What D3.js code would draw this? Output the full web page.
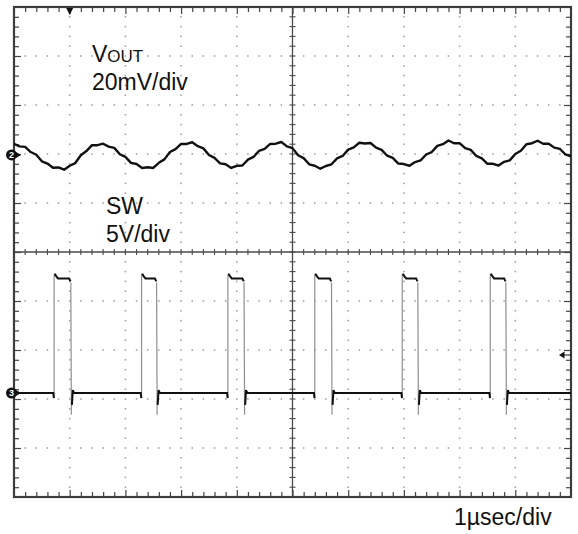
<!DOCTYPE html>
<html>
<head>
<meta charset="utf-8">
<script src="https://cdn.jsdelivr.net/npm/d3@7"></script>
<style>
  html, body { margin: 0; padding: 0; background: #fff; }
  svg { display: block; }
  text { font-family: "Liberation Sans", Arial, sans-serif; }
</style>
</head>
<body>
<svg id="chart" width="578" height="534"></svg>
<script>
// ---- Data ----
// time axis: 1 µs/div, 10 divisions
const timeStart = 0, timeEnd = 10;           // µs
const voutStep = 0.1;                         // µs between VOUT samples
// VOUT ripple (mV, AC coupled), one value every 0.1 µs from 0 to 10 µs
const voutMv = [
  4.6, 3.5, 3.3, 1.2, 0.1, -2.6, -3.5, -5.2, -5.1, -6.0,
  -4.4, -3.3, -0.1, 1.6, 4.0, 4.0, 4.6, 3.4, 2.9, 0.3,
  -0.8, -3.2, -3.7, -5.3, -5.0, -5.3, -3.2, -1.8, 1.2, 2.4,
  4.5, 4.5, 5.2, 3.6, 2.7, 0.0, -1.2, -3.4, -3.8, -5.3,
  -4.4, -4.3, -1.9, -0.8, 1.7, 2.5, 4.5, 4.6, 5.3, 3.5,
  2.8, -0.1, -1.3, -3.8, -4.4, -5.6, -4.5, -3.8, -1.4, -0.4,
  2.2, 3.1, 5.0, 4.7, 4.9, 3.0, 2.1, -0.3, -1.2, -3.5,
  -3.7, -4.4, -2.9, -2.2, 0.2, 1.2, 3.7, 4.4, 5.9, 4.8,
  4.8, 2.8, 2.1, -0.4, -1.4, -3.6, -3.6, -4.3, -2.8, -2.2,
  0.4, 1.7, 4.4, 4.8, 5.8, 4.6, 4.6, 3.0, 2.5, 0.2, -0.6
];
// SW node: edge times (µs) and levels (V)
const swRise = [0.72, 2.29, 3.84, 5.40, 6.97, 8.55];
const swFall = [1.02, 2.56, 4.13, 5.70, 7.25, 8.83];
const swHighV = 11.7, swOvershootV = 12.1, swUndershootV = -2.2, swLowV = 0, swPreDipV = -0.5;
// channel scales and offsets (divisions from screen centre)
const ch2Scale = 20, ch2Offset = 1.98;   // mV/div
const ch3Scale = 5,  ch3Offset = -2.88;  // V/div
const labels = { voutMain: "V", voutSub: "OUT", voutScale: "20mV/div",
                 sw: "SW", swScale: "5V/div", time: "1µsec/div" };

// ---- Layout ----
const svg = d3.select("#chart");
const L = 14, R = 571, T = 7, B = 497;
const x = d3.scaleLinear().domain([timeStart, timeEnd]).range([L, R]);
const yDiv = d3.scaleLinear().domain([-5, 5]).range([B, T]);
const yCh2 = v => yDiv(ch2Offset + v / ch2Scale);
const yCh3 = v => yDiv(ch3Offset + v / ch3Scale);

const majorX = d3.range(1, 10);           // µs grid lines
const majorY = d3.range(-4, 5);           // div grid lines
const minorX = d3.range(1, 50).map(i => i * 0.2);
const minorY = d3.range(1, 50).map(i => -5 + i * 0.2);
const isMajor = v => Math.abs(v - Math.round(v)) < 1e-6;

// dotted graticule
const dots = [];
majorX.filter(v => v !== 5).forEach(mx => minorY.forEach(my => dots.push([mx, my])));
majorY.filter(v => v !== 0).forEach(my => minorX.forEach(mx => { if (!isMajor(mx)) dots.push([mx, my]); }));
svg.append("g").selectAll("rect").data(dots).join("rect")
  .attr("x", d => x(d[0]) - 0.75).attr("y", d => yDiv(d[1]) - 0.75)
  .attr("width", 1.5).attr("height", 1.5).attr("fill", "#9a9a9a");

// centre lines with ticks
const gc = svg.append("g").attr("stroke", "#4a4a4a");
gc.append("line").attr("x1", L).attr("x2", R).attr("y1", yDiv(0)).attr("y2", yDiv(0)).attr("stroke-width", 1.3);
gc.append("line").attr("x1", x(5)).attr("x2", x(5)).attr("y1", T).attr("y2", B).attr("stroke-width", 1.3);
gc.selectAll(".cth").data(minorX).join("line")
  .attr("x1", d => x(d)).attr("x2", d => x(d))
  .attr("y1", yDiv(0) - 3).attr("y2", yDiv(0) + 3).attr("stroke-width", 1.1);
gc.selectAll(".ctv").data(minorY).join("line")
  .attr("y1", d => yDiv(d)).attr("y2", d => yDiv(d))
  .attr("x1", x(5) - 3).attr("x2", x(5) + 3).attr("stroke-width", 1.1);

// frame ticks via axes
function styleAxis(g) {
  g.select(".domain").remove();
  g.selectAll(".tick line").attr("stroke", "#444").attr("stroke-width", 1.2);
  g.selectAll(".tick text").remove();
}
const minorOnlyX = minorX.filter(v => !isMajor(v));
const minorOnlyY = minorY.filter(v => !isMajor(v));
svg.append("g").attr("transform", `translate(0,${T})`).call(d3.axisTop(x).tickValues(minorOnlyX).tickSize(-5)).call(styleAxis);
svg.append("g").attr("transform", `translate(0,${T})`).call(d3.axisTop(x).tickValues(majorX).tickSize(-7)).call(styleAxis);
svg.append("g").attr("transform", `translate(0,${B})`).call(d3.axisBottom(x).tickValues(minorOnlyX).tickSize(-5)).call(styleAxis);
svg.append("g").attr("transform", `translate(0,${B})`).call(d3.axisBottom(x).tickValues(majorX).tickSize(-7)).call(styleAxis);
svg.append("g").attr("transform", `translate(${L},0)`).call(d3.axisLeft(yDiv).tickValues(minorOnlyY).tickSize(-5)).call(styleAxis);
svg.append("g").attr("transform", `translate(${L},0)`).call(d3.axisLeft(yDiv).tickValues(majorY).tickSize(-7)).call(styleAxis);
svg.append("g").attr("transform", `translate(${R},0)`).call(d3.axisRight(yDiv).tickValues(minorOnlyY).tickSize(-5)).call(styleAxis);
svg.append("g").attr("transform", `translate(${R},0)`).call(d3.axisRight(yDiv).tickValues(majorY).tickSize(-7)).call(styleAxis);

// frame
svg.append("rect").attr("x", L).attr("y", T).attr("width", R - L).attr("height", B - T)
  .attr("fill", "none").attr("stroke", "#3c3c3c").attr("stroke-width", 2.2);

// ---- VOUT trace ----
const voutPts = voutMv.map((v, i) => [timeStart + i * voutStep, v]);
svg.append("path").datum(voutPts)
  .attr("fill", "none").attr("stroke", "#111").attr("stroke-width", 2.4).attr("stroke-linejoin", "round")
  .attr("d", d3.line().x(d => x(d[0])).y(d => yCh2(d[1])));

// ---- SW trace ----
const swLine = d3.line().x(d => x(d[0])).y(d => yCh3(d[1]));
const lowSegs = [], highSegs = [], edges = [];
let prev = [[timeStart, swLowV]];
swRise.forEach((tr, i) => {
  const tf = swFall[i];
  prev.push([tr - 0.015, swLowV], [tr - 0.004, swPreDipV]);
  lowSegs.push(prev);
  edges.push([[tr, swPreDipV], [tr, swOvershootV]]);
  highSegs.push([[tr, swOvershootV], [tr + 0.02, swOvershootV], [tr + 0.04, swHighV + 0.2],
                 [tr + 0.07, swHighV], [tf - 0.03, swHighV], [tf - 0.005, swHighV - 0.3]]);
  edges.push([[tf, swHighV - 0.4], [tf + 0.01, swUndershootV]]);
  prev = [[tf + 0.02, swUndershootV + 1.0], [tf + 0.035, swLowV + 0.3], [tf + 0.06, swLowV]];
});
prev.push([timeEnd, swLowV]);
lowSegs.push(prev);

svg.append("g").selectAll("path").data(edges).join("path")
  .attr("fill", "none").attr("stroke", "#8f8f8f").attr("stroke-width", 1.2).attr("d", swLine);
svg.append("g").selectAll("path").data(lowSegs.concat(highSegs)).join("path")
  .attr("fill", "none").attr("stroke", "#111").attr("stroke-width", 2).attr("d", swLine);

// ---- markers ----
function chMarker(cy, label) {
  const g = svg.append("g");
  g.append("circle").attr("cx", 11.5).attr("cy", cy).attr("r", 5.5).attr("fill", "#111");
  g.append("path").attr("d", `M16,${cy - 3}L21,${cy}L16,${cy + 3}Z`).attr("fill", "#111");
  g.append("text").attr("x", 11.5).attr("y", cy + 3.2).attr("text-anchor", "middle")
    .attr("font-size", 9).attr("font-weight", "bold").attr("fill", "#fff").text(label);
}
chMarker(yDiv(ch2Offset), "2");
chMarker(yDiv(ch3Offset), "3");
// trigger position marker (top)
svg.append("path").attr("d", `M${x(1) - 3.5},${T + 1}L${x(1) + 3.5},${T + 1}L${x(1)},${T + 8}Z`).attr("fill", "#111");
// trigger level marker (right)
const trigY = 355;
svg.append("path").attr("d", `M559,${trigY}L564.5,${trigY - 3.5}L564.5,${trigY + 3.5}Z`).attr("fill", "#111");
svg.append("line").attr("x1", 564).attr("x2", R).attr("y1", trigY).attr("y2", trigY).attr("stroke", "#111").attr("stroke-width", 1);

// ---- labels ----
const t1 = svg.append("text").attr("x", 92).attr("y", 62).attr("font-size", 23).attr("fill", "#111");
t1.append("tspan").text(labels.voutMain);
t1.append("tspan").attr("font-size", 17).text(labels.voutSub);
svg.append("text").attr("x", 92).attr("y", 90).attr("font-size", 23).attr("fill", "#111").text(labels.voutScale);
svg.append("text").attr("x", 106).attr("y", 214).attr("font-size", 23).attr("fill", "#111").text(labels.sw);
svg.append("text").attr("x", 106).attr("y", 242).attr("font-size", 23).attr("fill", "#111").text(labels.swScale);
svg.append("text").attr("x", 454).attr("y", 525).attr("font-size", 23).attr("fill", "#111").text(labels.time);
</script>
</body>
</html>
